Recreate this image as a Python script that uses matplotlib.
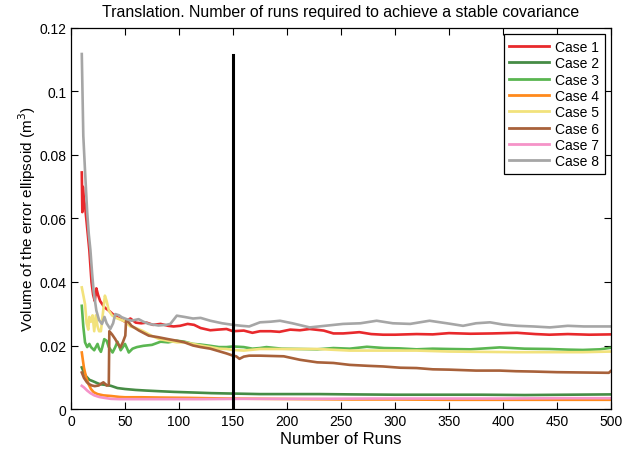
import matplotlib
matplotlib.use("Agg")
import matplotlib.pyplot as plt
from matplotlib.ticker import FuncFormatter

plt.rcParams['font.family'] = ['Liberation Sans', 'DejaVu Sans']

# case 1
runs1 = [10, 10.5, 11, 12, 13, 15, 17, 19, 20.5, 22, 23.5, 25, 27, 29, 31, 35, 40, 45, 50, 55,
         60, 65, 70, 76, 83, 90, 95, 101, 108, 114, 120, 129, 136, 144, 150, 160, 168, 175, 185, 193,
         203, 212, 221, 234, 243, 252, 260, 267, 278, 289, 300, 320, 335, 350, 370, 390, 413, 430, 443, 460,
         480, 500]
vol1 = [0.0745, 0.062, 0.070, 0.066, 0.064, 0.057, 0.050, 0.040, 0.036, 0.034, 0.038, 0.036, 0.034, 0.033, 0.032, 0.031, 0.0295, 0.0285, 0.0275, 0.0285,
        0.0272, 0.027, 0.0272, 0.0265, 0.0268, 0.0262, 0.026, 0.0262, 0.0268, 0.0265, 0.0255, 0.0248, 0.025, 0.0252, 0.0245, 0.0247, 0.024, 0.0245, 0.0245, 0.0243,
        0.025, 0.0248, 0.0252, 0.0247, 0.0238, 0.0238, 0.024, 0.0242, 0.0236, 0.0234, 0.0234, 0.0236, 0.0235, 0.0239, 0.0237, 0.0238, 0.0240, 0.0236, 0.0234, 0.0236,
        0.0234, 0.0235]

# case 2
runs2 = [10, 12, 14, 17, 20, 24, 27, 32, 37, 43, 50, 60, 70, 82, 95, 113, 130, 144, 160, 175,
         200, 230, 260, 300, 340, 380, 420, 460, 500]
vol2 = [0.0131, 0.0115, 0.0103, 0.0092, 0.0088, 0.0082, 0.0078, 0.0076, 0.0073, 0.0066, 0.0063, 0.006, 0.0058, 0.0056, 0.0054, 0.0052, 0.0050, 0.0049, 0.0048, 0.0047,
        0.0047, 0.0047, 0.0046, 0.0045, 0.0045, 0.0045, 0.0044, 0.0045, 0.0046]

# case 3
runs3 = [10, 11.4, 13, 15, 17, 18.5, 20, 21.5, 23, 24.6, 26, 27.7, 29, 30.8, 33, 35, 37, 38.5, 41, 43,
         46, 48, 50, 52, 53.5, 57, 61, 67, 75, 83, 90, 98, 105, 113, 120, 129, 137, 144, 150, 160,
         168, 175, 181, 195, 212, 228, 243, 258, 274, 290, 304, 320, 335, 350, 370, 397, 420, 443, 460, 474,
         490, 500]
vol3 = [0.0325, 0.026, 0.021, 0.0195, 0.0205, 0.0195, 0.019, 0.0185, 0.0195, 0.0205, 0.019, 0.018, 0.0195, 0.022, 0.0215, 0.0195, 0.0185, 0.0178, 0.0195, 0.0212,
        0.0185, 0.0195, 0.0205, 0.019, 0.0178, 0.019, 0.0195, 0.0199, 0.0202, 0.0212, 0.021, 0.0215, 0.0212, 0.0205, 0.0203, 0.0199, 0.0195, 0.0195, 0.0197, 0.0195,
        0.0190, 0.0192, 0.0195, 0.0190, 0.0189, 0.0188, 0.0192, 0.0190, 0.0196, 0.0192, 0.0191, 0.0188, 0.0190, 0.0189, 0.0188, 0.0194, 0.0190, 0.0189, 0.0187, 0.0186,
        0.0188, 0.0193]

# case 4
runs4 = [10, 12, 14, 16, 18.5, 21, 24.6, 30, 37, 45, 50, 65, 83, 110, 144, 180, 220, 260, 300, 350,
         400, 450, 500]
vol4 = [0.0178, 0.013, 0.0100, 0.0080, 0.0063, 0.0053, 0.0047, 0.0043, 0.0041, 0.0038, 0.0037, 0.0037, 0.0036, 0.0035, 0.0033, 0.0032, 0.0031, 0.0030, 0.0030, 0.0029,
        0.0029, 0.0029, 0.0029]

# case 5
runs5 = [10, 11.5, 13, 14.5, 16, 17, 18.5, 20, 21.5, 23, 24.6, 26, 27.7, 29.5, 31.4, 33, 35, 38, 41, 44.6,
         50, 55, 60, 67, 75, 82, 90, 98, 105, 113, 120, 129, 137, 144, 150, 160, 175, 197, 228, 258,
         289, 320, 350, 380, 412, 443, 474, 500]
vol5 = [0.0383, 0.0357, 0.033, 0.027, 0.0250, 0.029, 0.0275, 0.0295, 0.0245, 0.0295, 0.026, 0.0245, 0.0245, 0.03, 0.0357, 0.034, 0.031, 0.0295, 0.0288, 0.0283,
        0.0276, 0.026, 0.0255, 0.0245, 0.023, 0.022, 0.0215, 0.021, 0.021, 0.0205, 0.02, 0.0195, 0.019, 0.0189, 0.0186, 0.0184, 0.0189, 0.0189, 0.0189, 0.0184,
        0.0184, 0.0184, 0.0181, 0.0180, 0.0179, 0.0179, 0.0179, 0.0181]

# case 6
runs6 = [10, 12, 14.8, 17, 19.4, 22, 25.6, 28, 30, 32,
         33, 35, 35.5, 38, 41, 43.5, 45.7, 48, 50.3, 51,
         53, 56, 63, 72, 81, 90, 98, 105, 113, 120,
         129, 137, 144, 150, 153, 156, 160, 165, 175, 197,
         212, 228, 243, 258, 275, 289, 305, 320, 335, 350,
         375, 397, 412, 428, 450, 474, 498, 500]
vol6 = [0.0115, 0.0098, 0.0084, 0.0078, 0.0074, 0.0072, 0.0074, 0.0080, 0.0084, 0.0078,
        0.0074, 0.0075, 0.0245, 0.0235, 0.022, 0.0205, 0.0194, 0.021, 0.0231, 0.0278,
        0.0275, 0.0262, 0.0247, 0.0231, 0.0226, 0.022, 0.0215, 0.021, 0.0200, 0.0195,
        0.0190, 0.0182, 0.0175, 0.0168, 0.0166, 0.0158, 0.0165, 0.0168, 0.0168, 0.0166,
        0.0155, 0.0147, 0.0145, 0.0139, 0.0136, 0.0134, 0.0130, 0.0129, 0.0125, 0.0124,
        0.0121, 0.0121, 0.0119, 0.0118, 0.0116, 0.0115, 0.0114, 0.0120]

# case 7
runs7 = [10, 12, 15, 18, 21.5, 26, 31, 37, 45, 60, 83, 120, 160, 220, 280, 340, 400, 460, 500]
vol7 = [0.0073, 0.0068, 0.0058, 0.0050, 0.0043, 0.0038, 0.0035, 0.0032, 0.0031, 0.0031, 0.0031, 0.0031, 0.0032, 0.0032, 0.0033, 0.0033, 0.0033, 0.0034, 0.0034]

# case 8
runs8 = [10, 11.4, 13, 15, 16.5, 18, 19.5, 21, 23.5, 26,
         28.7, 31, 33, 36.4, 39, 41, 44.6, 47, 51.5, 56,
         62.6, 67, 72, 81, 88, 92, 98, 105, 113, 120,
         129, 140, 150, 158, 165, 175, 185, 193.5, 205, 221,
         235, 252, 268, 283, 298, 314, 332, 348, 363, 375,
         388, 400, 413, 428, 443.5, 460, 475, 490, 500]
vol8 = [0.1118, 0.0861, 0.075, 0.062, 0.055, 0.050, 0.043, 0.037, 0.031, 0.028,
        0.0268, 0.029, 0.027, 0.0252, 0.027, 0.0299, 0.0295, 0.0289, 0.0283, 0.0278,
        0.0283, 0.0275, 0.0268, 0.0263, 0.0265, 0.0268, 0.0294, 0.029, 0.0285, 0.0287,
        0.0278, 0.027, 0.0265, 0.0262, 0.026, 0.0273, 0.0275, 0.0278, 0.027, 0.0257,
        0.0262, 0.0268, 0.027, 0.0278, 0.027, 0.0268, 0.0278, 0.027, 0.0262, 0.027,
        0.0273, 0.0266, 0.0262, 0.026, 0.0257, 0.0262, 0.026, 0.026, 0.026]

labels = ['Case 1', 'Case 2', 'Case 3', 'Case 4', 'Case 5', 'Case 6', 'Case 7', 'Case 8']
colors = ['#e8292c', '#468c45', '#5ab651', '#ff8a1c', '#f2e27c', '#a8613a', '#f593c8', '#a6a6a6']
all_runs = [runs1, runs2, runs3, runs4, runs5, runs6, runs7, runs8]
all_vols = [vol1, vol2, vol3, vol4, vol5, vol6, vol7, vol8]

stable_run = 150
stable_top = 0.1115

fig = plt.figure(figsize=(6.43, 4.52), dpi=100)
ax = fig.add_axes([0.1104, 0.0929, 0.8398, 0.843])

for r, v, c, lab in zip(all_runs, all_vols, colors, labels):
    ax.plot(r, v, color=c, lw=1.9, label=lab)

ax.plot([stable_run, stable_run], [0, stable_top], color='black', lw=2.2)

ax.set_xlim(0, 500)
ax.set_ylim(0, 0.12)
ax.set_xticks(range(0, 501, 50))
ax.set_yticks([0, 0.02, 0.04, 0.06, 0.08, 0.1, 0.12])
ax.yaxis.set_major_formatter(FuncFormatter(lambda v, p: '%g' % round(v, 3)))
ax.tick_params(direction='in', top=True, right=True, length=5, labelsize=10, width=0.8)
for s in ax.spines.values():
    s.set_linewidth(0.9)

ax.set_title('Translation. Number of runs required to achieve a stable covariance', fontsize=11.4, pad=8.5)
ax.set_xlabel('Number of Runs', fontsize=12, labelpad=2)
ax.set_ylabel('Volume of the error ellipsoid (m$^3$)', fontsize=11, labelpad=1)

leg = ax.legend(loc='upper right', fontsize=10, fancybox=False, framealpha=1, edgecolor='black',
                handlelength=2.9, handletextpad=0.4, labelspacing=0.17, borderaxespad=0.45, borderpad=0.4)
leg.get_frame().set_linewidth(0.9)
for line in leg.get_lines():
    line.set_linewidth(2.0)

fig.savefig('out.png', dpi=100)
